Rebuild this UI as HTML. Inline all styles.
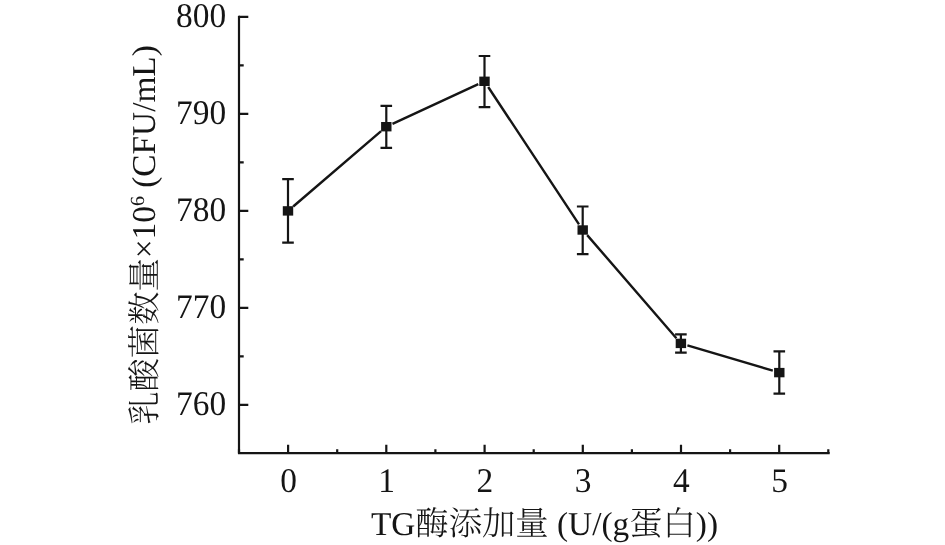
<!DOCTYPE html>
<html lang="zh">
<head>
<meta charset="utf-8">
<title>TG酶添加量 - 乳酸菌数量</title>
<style>
html,body{margin:0;padding:0;background:#fff;}
body{width:945px;height:545px;overflow:hidden;}
svg{display:block;}
text{font-family:"Liberation Serif","Noto Serif CJK SC",serif;fill:#151515;text-rendering:geometricPrecision;}
.tk{font-size:33.4px;}
.lb{font-size:33.33px;font-weight:300;}
</style>
</head>
<body>
<svg width="945" height="545" viewBox="0 0 945 545">
<rect width="945" height="545" fill="#fff"/>
<g stroke="#151515" stroke-width="2.2" fill="none" stroke-linecap="butt">
<path d="M239 15.8V453.2H829.7"/>
<path d="M239 404.9H248.3M239 356.4H243.7M239 307.9H248.3M239 259.4H243.7M239 210.9H248.3M239 162.4H243.7M239 113.9H248.3M239 65.4H243.7M239 16.9H248.3M239.0 453.2V449.2M288.1 453.2V444.8M337.2 453.2V449.2M386.3 453.2V444.8M435.4 453.2V449.2M484.6 453.2V444.8M533.7 453.2V449.2M582.8 453.2V444.8M631.9 453.2V449.2M681.0 453.2V444.8M730.1 453.2V449.2M779.2 453.2V444.8M828.3 453.2V449.2"/>
<path d="M293.2 206.5L381.1 131.1M392.5 123.8L478.3 84.2M488.2 87.0L579.0 224.3M587.2 235.1L676.4 338.3M687.4 345.3L772.8 370.7" stroke-width="2.4"/>
<path d="M288.0 179.2V242.7M282.2 179.2H293.8M282.2 242.7H293.8M386.3 105.8V147.8M380.5 105.8H392.1M380.5 147.8H392.1M484.5 56.0V107.1M478.7 56.0H490.3M478.7 107.1H490.3M582.7 206.5V254.1M576.9 206.5H588.5M576.9 254.1H588.5M680.9 334.4V352.6M675.1 334.4H686.7M675.1 352.6H686.7M779.3 351.4V393.6M773.5 351.4H785.1M773.5 393.6H785.1" stroke-width="2.2"/>
</g>
<g fill="#151515">
<rect x="282.8" y="206.2" width="10.4" height="9.4"/>
<rect x="381.1" y="122.0" width="10.4" height="9.4"/>
<rect x="479.3" y="76.6" width="10.4" height="9.4"/>
<rect x="577.5" y="225.3" width="10.4" height="9.4"/>
<rect x="675.7" y="338.7" width="10.4" height="9.4"/>
<rect x="774.1" y="367.9" width="10.4" height="9.4"/>
</g>
<g class="tk" text-anchor="end">
<text transform="translate(226.1 415.1) scale(1 1.035)">760</text>
<text transform="translate(226.1 318.1) scale(1 1.035)">770</text>
<text transform="translate(226.1 221.1) scale(1 1.035)">780</text>
<text transform="translate(226.1 124.1) scale(1 1.035)">790</text>
<text transform="translate(226.1 27.1) scale(1 1.035)">800</text>
</g>
<g class="tk" text-anchor="middle">
<text transform="translate(288.5 492.1) scale(1 1.035)">0</text>
<text transform="translate(386.7 492.1) scale(1 1.035)">1</text>
<text transform="translate(484.9 492.1) scale(1 1.035)">2</text>
<text transform="translate(583.2 492.1) scale(1 1.035)">3</text>
<text transform="translate(681.4 492.1) scale(1 1.035)">4</text>
<text transform="translate(779.6 492.1) scale(1 1.035)">5</text>
</g>
<text class="lb" text-anchor="middle" x="544.5" y="534.6">TG酶添加量 (U/(g蛋白))</text>
<text class="lb" text-anchor="middle" transform="translate(155.2 235) rotate(-90)"><tspan dy="0.6">乳酸菌数量</tspan><tspan dy="-0.6">×10</tspan><tspan font-size="20" dy="-11.1">6</tspan><tspan dy="11.1"> (CFU/mL)</tspan></text>
</svg>
</body>
</html>
